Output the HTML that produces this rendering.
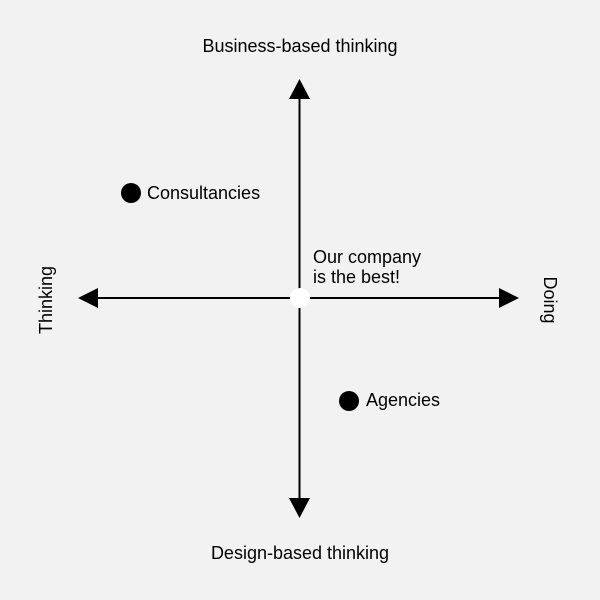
<!DOCTYPE html>
<html><head><style>body{margin:0;background:#f2f2f2}</style></head><body>
<svg width="600" height="600" xmlns="http://www.w3.org/2000/svg" style="display:block;font-family:'Liberation Sans',sans-serif;font-size:18px">
<rect width="600" height="600" fill="#f2f2f2"/>
<line x1="299.5" y1="95" x2="299.5" y2="502" stroke="#000" stroke-width="2"/>
<line x1="94" y1="298" x2="504" y2="298" stroke="#000" stroke-width="2"/>
<polygon points="299.5,79 310,99 289,99" fill="#000"/>
<polygon points="299.5,518 310,498 289,498" fill="#000"/>
<polygon points="78,298 98,288 98,308" fill="#000"/>
<polygon points="519,298 499,288 499,308" fill="#000"/>
<circle cx="300" cy="298" r="10" fill="#fff"/>
<text x="300" y="52" text-anchor="middle">Business-based thinking</text>
<text x="300" y="559" text-anchor="middle">Design-based thinking</text>
<text transform="translate(52,300) rotate(-90)" text-anchor="middle">Thinking</text>
<text transform="translate(544,300) rotate(90)" text-anchor="middle">Doing</text>
<text x="313" y="263">Our company</text>
<text x="313" y="283">is the best!</text>
<circle cx="131" cy="193" r="10" fill="#000"/>
<text x="147" y="199">Consultancies</text>
<circle cx="349" cy="401" r="10" fill="#000"/>
<text x="366" y="406">Agencies</text>
</svg>
</body></html>
